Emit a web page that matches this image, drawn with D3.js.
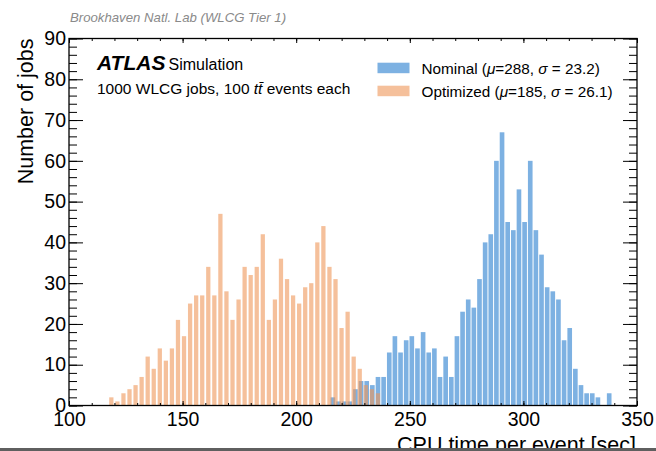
<!DOCTYPE html>
<html>
<head>
<meta charset="utf-8">
<script src="https://cdn.jsdelivr.net/npm/d3@7"></script>
<style>
  html, body { margin: 0; padding: 0; background: #fff; }
  svg { display: block; font-family: "Liberation Sans", Arial, Helvetica, sans-serif; }
</style>
</head>
<body>
<svg id="chart" width="656" height="451"></svg>
<script>
// histogram contents (jobs per bin)
var nominalRange = [214.9, 339.0];   // 50 bins
var nominalCounts = [2, 1, 1, 1, 4, 6, 6, 5, 7, 7,
    13, 17, 13, 16, 17, 14, 18, 13, 14, 7,
    12, 7, 17, 23, 26, 24, 31, 40, 42, 60,
    67, 45, 43, 53, 45, 60, 43, 37, 29, 28,
    26, 16, 19, 9, 5, 3, 3, 2, 0, 3];

var optimizedRange = [117.3, 237.3]; // 45 bins
var optimizedCounts = [2, 1, 3, 4, 5, 7, 12, 9, 14, 11,
    14, 21, 17, 25, 27, 27, 34, 27, 47, 28,
    21, 26, 34, 32, 34, 42, 21, 26, 36, 31,
    27, 25, 29, 30, 40, 44, 34, 31, 19, 23,
    12, 9, 5, 4, 3];

var xDomain = [100, 350];
var yDomain = [0, 90];
var xMajorTicks = [100, 150, 200, 250, 300, 350];
var yMajorTicks = [0, 10, 20, 30, 40, 50, 60, 70, 80, 90];

var seriesNames = ["Nominal", "Optimized"];
var seriesMu = ["288", "185"];
var seriesSigma = ["23.2", "26.1"];

var plot = { left: 69, right: 637, top: 38.5, bottom: 405.5 };
var blue = "#7db1e2";
var orange = "#ee9658";

var svg = d3.select("#chart");

var x = d3.scaleLinear().domain(xDomain).range([plot.left, plot.right]);
var y = d3.scaleLinear().domain(yDomain).range([plot.bottom, plot.top]);

// turn counts + range into bins
function makeBins(range, counts) {
    var edge = d3.scaleLinear().domain([0, counts.length]).range(range);
    return counts.map(function (c, i) {
        return { x0: edge(i), x1: edge(i + 1), n: c };
    });
}

function drawHist(bins, fill, opacity, gap) {
    svg.append("g")
        .selectAll("rect")
        .data(bins.filter(function (d) { return d.n > 0; }))
        .join("rect")
        .attr("x", function (d) { return x(d.x0) + gap / 2; })
        .attr("width", function (d) { return x(d.x1) - x(d.x0) - gap; })
        .attr("y", function (d) { return y(d.n); })
        .attr("height", function (d) { return y(0) - y(d.n); })
        .attr("fill", fill)
        .attr("fill-opacity", opacity);
}

drawHist(makeBins(nominalRange, nominalCounts), blue, 1, 1.0);
drawHist(makeBins(optimizedRange, optimizedCounts), orange, 0.6, 1.8);

// axes: ticks point inwards, mirrored on top/right
function styleAxis(g) {
    g.select(".domain").remove();
    g.selectAll("line").attr("stroke", "#000").attr("stroke-width", 1);
    g.selectAll("text")
        .attr("fill", "#000")
        .attr("font-size", 19.5)
        .attr("font-family", "Liberation Sans, Arial, sans-serif");
}

var xMinor = d3.range(xDomain[0], xDomain[1] + 1, 10);
var yMinor = d3.range(yDomain[0], yDomain[1] + 1, 2);

svg.append("g").attr("transform", "translate(0," + plot.bottom + ")")
    .call(d3.axisBottom(x).tickValues(xMinor).tickSize(-2.5).tickSizeOuter(0).tickFormat(""))
    .call(styleAxis);
svg.append("g").attr("transform", "translate(0," + plot.bottom + ")")
    .call(d3.axisBottom(x).tickValues(xMajorTicks).tickSize(-4.5).tickSizeOuter(0).tickPadding(7))
    .call(styleAxis);
svg.append("g").attr("transform", "translate(0," + plot.top + ")")
    .call(d3.axisTop(x).tickValues(xMinor).tickSize(-2.5).tickSizeOuter(0).tickFormat(""))
    .call(styleAxis);
svg.append("g").attr("transform", "translate(0," + plot.top + ")")
    .call(d3.axisTop(x).tickValues(xMajorTicks).tickSize(-4.5).tickSizeOuter(0).tickFormat(""))
    .call(styleAxis);

svg.append("g").attr("transform", "translate(" + plot.left + ",0)")
    .call(d3.axisLeft(y).tickValues(yMinor).tickSize(-8).tickSizeOuter(0).tickFormat(""))
    .call(styleAxis);
svg.append("g").attr("transform", "translate(" + plot.left + ",0)")
    .call(d3.axisLeft(y).tickValues(yMajorTicks).tickSize(-14).tickSizeOuter(0).tickPadding(3))
    .call(styleAxis);
svg.append("g").attr("transform", "translate(" + plot.right + ",0)")
    .call(d3.axisRight(y).tickValues(yMinor).tickSize(-8).tickSizeOuter(0).tickFormat(""))
    .call(styleAxis);
svg.append("g").attr("transform", "translate(" + plot.right + ",0)")
    .call(d3.axisRight(y).tickValues(yMajorTicks).tickSize(-14).tickSizeOuter(0).tickFormat(""))
    .call(styleAxis);

// frame
svg.append("rect")
    .attr("x", plot.left)
    .attr("y", plot.top)
    .attr("width", plot.right - plot.left)
    .attr("height", plot.bottom - plot.top)
    .attr("fill", "none")
    .attr("stroke", "#000")
    .attr("stroke-width", 1.3);

// axis titles
svg.append("text")
    .attr("transform", "translate(33," + plot.top + ") rotate(-90)")
    .attr("text-anchor", "end")
    .attr("font-size", 21.5)
    .text("Number of jobs");

svg.append("text")
    .attr("x", plot.right - 1)
    .attr("y", 452)
    .attr("text-anchor", "end")
    .attr("font-size", 21.5)
    .text("CPU time per event [sec]");

// source note on top
svg.append("text")
    .attr("x", 70)
    .attr("y", 22)
    .attr("font-size", 13.2)
    .attr("font-style", "italic")
    .attr("fill", "#8a8a8a")
    .text("Brookhaven Natl. Lab (WLCG Tier 1)");

// ATLAS label
svg.append("text")
    .attr("x", 97)
    .attr("y", 70)
    .attr("font-size", 21)
    .attr("font-weight", "bold")
    .attr("font-style", "italic")
    .text("ATLAS");
svg.append("text")
    .attr("x", 168.5)
    .attr("y", 70)
    .attr("font-size", 16)
    .text("Simulation");

var sub = svg.append("text")
    .attr("x", 97)
    .attr("y", 94)
    .attr("font-size", 15.5);
sub.append("tspan").text("1000 WLCG jobs, 100 ");
sub.append("tspan").attr("font-style", "italic").text("t\u0074\u0304");
sub.append("tspan").text(" events each");

// legend
var legend = svg.append("g");
var legendColors = [blue, orange];
var legendOpacity = [1, 0.6];
seriesNames.forEach(function (name, i) {
    var row = legend.append("g").attr("transform", "translate(0," + (i * 23) + ")");
    row.append("rect")
        .attr("x", 377.5)
        .attr("y", 62.7)
        .attr("width", 32)
        .attr("height", 10.5)
        .attr("fill", legendColors[i])
        .attr("fill-opacity", legendOpacity[i]);
    var t = row.append("text")
        .attr("x", 421.5)
        .attr("y", 73.5)
        .attr("font-size", 15.3);
    t.append("tspan").text(name + " (");
    t.append("tspan").attr("font-style", "italic").text("\u03bc");
    t.append("tspan").text("=" + seriesMu[i] + ", ");
    t.append("tspan").attr("font-style", "italic").text("\u03c3");
    t.append("tspan").text(" = " + seriesSigma[i] + ")");
});

// grey strip along the bottom edge
svg.append("rect")
    .attr("x", 0)
    .attr("y", 448)
    .attr("width", 656)
    .attr("height", 3)
    .attr("fill", "#5f5f5f");
</script>
</body>
</html>
